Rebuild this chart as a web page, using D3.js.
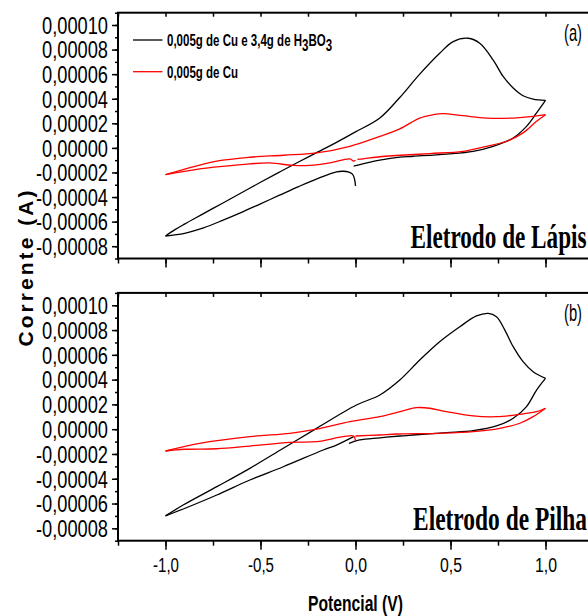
<!DOCTYPE html>
<html>
<head>
<meta charset="utf-8">
<script src="https://cdn.jsdelivr.net/npm/d3@7"></script>
<style>
  body { margin: 0; background: #fff; }
  svg { display: block; }
</style>
</head>
<body>
<div id="chart"></div>
<script>
// ==================================================
// Dados (potencial em V, corrente em unidades de 1e-5 A)
// ==================================================
const CURRENT_UNIT = 1e-5;

const xMajorTicks = [-1.0, -0.5, 0.0, 0.5, 1.0];
const yMajorTicks = [0.0001, 0.00008, 0.00006, 0.00004, 0.00002, 0, -0.00002, -0.00004, -0.00006, -0.00008];
const seriesLabels = ["0,005g de Cu e 3,4g de H", "0,005g de Cu"];
const panelTags = ["(a)", "(b)"];
const panelNames = ["Eletrodo de Lápis", "Eletrodo de Pilha"];

// (a) Eletrodo de Lápis - Cu + H3BO3
const lapisBoro = [
  [0.0, -3.1], [-0.005, -2.55], [-0.015, -2.15], [-0.035, -1.97], [-0.065, -1.9], [-0.1, -1.95],
  [-0.2, -2.5], [-0.3, -3.15], [-0.4, -3.85], [-0.5, -4.55], [-0.6, -5.25], [-0.7, -5.9],
  [-0.8, -6.5], [-0.9, -6.95], [-1.0, -7.17],
  [-0.95, -6.65], [-0.9, -6.2], [-0.8, -5.35], [-0.7, -4.5], [-0.6, -3.65], [-0.5, -2.8],
  [-0.4, -1.97], [-0.3, -1.15], [-0.2, -0.35], [-0.1, 0.45], [0.0, 1.3], [0.128, 2.43],
  [0.233, 4.1], [0.338, 6.0], [0.443, 7.7], [0.514, 8.65], [0.593, 8.92], [0.654, 8.51],
  [0.724, 7.16], [0.777, 5.81], [0.83, 4.87], [0.882, 4.24], [0.935, 3.97], [1.0, 3.86],
  [0.953, 2.84], [0.9, 1.75], [0.83, 0.81], [0.724, 0.13], [0.619, -0.28], [0.479, -0.5],
  [0.303, -0.68], [0.233, -0.75], [0.128, -1.0], [0.0, -1.45], [-0.01, -1.49]
];

// (a) Eletrodo de Lápis - Cu
const lapisCu = [
  [0.0, -1.0], [-0.01, -1.08], [-0.03, -0.9], [-0.135, -1.22], [-0.24, -1.43], [-0.328, -1.43],
  [-0.45, -1.22], [-0.556, -1.3], [-0.7, -1.5], [-0.82, -1.71], [-1.0, -2.17],
  [-0.907, -1.76], [-0.73, -1.08], [-0.556, -0.76], [-0.38, -0.6], [-0.205, -0.41],
  [-0.03, 0.13], [0.128, 0.94], [0.233, 1.55], [0.338, 2.43], [0.409, 2.7], [0.461, 2.78],
  [0.566, 2.62], [0.689, 2.43], [0.83, 2.43], [0.935, 2.56], [1.0, 2.7],
  [0.953, 2.16], [0.882, 1.22], [0.795, 0.54], [0.689, 0.13], [0.566, -0.28], [0.391, -0.46],
  [0.216, -0.62], [0.128, -0.72], [0.04, -0.89], [0.01, -0.93]
];

// (b) Eletrodo de Pilha - Cu + H3BO3
const pilhaBoro = [
  [-0.01, -0.6], [-0.1, -1.28], [-0.17, -1.68], [-0.38, -3.03], [-0.556, -4.1], [-0.73, -5.31],
  [-0.9, -6.4], [-1.0, -7.0],
  [-0.907, -6.12], [-0.73, -4.64], [-0.556, -3.16], [-0.38, -1.54], [-0.205, 0.07],
  [0.005, 1.95], [0.128, 2.76], [0.233, 3.97], [0.338, 5.58], [0.443, 7.06], [0.549, 8.27],
  [0.637, 9.14], [0.698, 9.35], [0.742, 9.08], [0.786, 8.0], [0.83, 6.66], [0.882, 5.45],
  [0.935, 4.64], [1.0, 4.1],
  [0.953, 3.16], [0.9, 1.82], [0.83, 0.88], [0.742, 0.26], [0.619, -0.12], [0.479, -0.28],
  [0.303, -0.47], [0.233, -0.55], [0.128, -0.7], [0.022, -0.87], [-0.034, -1.14]
];

// (b) Eletrodo de Pilha - Cu
const pilhaCu = [
  [0.0, -1.0], [-0.01, -0.55], [-0.065, -0.6], [-0.205, -1.01], [-0.345, -1.06], [-0.556, -1.36],
  [-0.73, -1.58], [-0.9, -1.62], [-1.0, -1.76],
  [-0.82, -1.14], [-0.556, -0.6], [-0.345, -0.33], [-0.205, 0.0], [-0.03, 0.61], [0.128, 1.01],
  [0.233, 1.41], [0.32, 1.74], [0.391, 1.69], [0.479, 1.41], [0.619, 1.07], [0.742, 1.01],
  [0.865, 1.2], [0.953, 1.41], [1.0, 1.69],
  [0.935, 1.01], [0.865, 0.48], [0.76, 0.07], [0.619, -0.2], [0.443, -0.33], [0.216, -0.39],
  [0.128, -0.47], [0.0, -0.55]
];

const seriesColors = ["#000000", "#ff0000"];

// ==================================================
// Layout
// ==================================================
const W = 588, H = 616;
const narrow = "'Liberation Sans Narrow','Arial Narrow','Liberation Sans',sans-serif";

const svg = d3.select("#chart").append("svg")
  .attr("width", W)
  .attr("height", H);

const x = d3.scaleLinear().domain([-1.25, 1.25]).range([118, 593]);

const panels = [
  { y: d3.scaleLinear().domain([-0.00009, 0.00011]).range([258.5, 12.7]), data: [lapisBoro, lapisCu], labelsX: false },
  { y: d3.scaleLinear().domain([-0.00009, 0.00011]).range([540.7, 292.9]), data: [pilhaBoro, pilhaCu], labelsX: true }
];

const fmt = (f) => (d) => d3.format(f)(d).replace("−", "-").replace(".", ",");
const xMinor = d3.range(-5, 6).map(k => k * 0.25);
const yMinor = d3.range(-9, 12).map(k => k * 1e-5);

// divide o voltamograma em ramos (onde o sentido da varredura muda)
function splitBranches(points) {
  const branches = [];
  let current = [points[0]];
  let dir = 0;
  for (let i = 1; i < points.length; i++) {
    const d = Math.sign(points[i][0] - points[i - 1][0]);
    if (dir !== 0 && d !== 0 && d !== dir) {
      branches.push(current);
      current = [points[i - 1]];
    }
    if (d !== 0) dir = d;
    current.push(points[i]);
  }
  branches.push(current);
  return branches;
}

panels.forEach((p, pi) => {
  const g = svg.append("g");
  const [y0, y1] = p.y.range();

  // Curvas
  const line = d3.line()
    .x(d => x(d[0]))
    .y(d => p.y(d[1] * CURRENT_UNIT))
    .curve(d3.curveCatmullRom.alpha(0.5));

  p.data.forEach((series, si) => {
    splitBranches(series).forEach(branch => {
      g.append("path")
        .attr("d", line(branch))
        .attr("fill", "none")
        .attr("stroke", seriesColors[si])
        .attr("stroke-width", 1.3)
        .attr("stroke-linejoin", "round");
    });
  });

  // Eixo Y: menores e maiores
  g.append("g")
    .attr("transform", `translate(${x.range()[0]},0)`)
    .call(d3.axisLeft(p.y).tickValues(yMinor).tickSize(3).tickFormat(""))
    .call(a => a.select(".domain").remove())
    .call(a => a.selectAll("line").attr("stroke-width", 1.5));

  g.append("g")
    .attr("transform", `translate(${x.range()[0]},0)`)
    .call(d3.axisLeft(p.y).tickValues(yMajorTicks).tickSize(6).tickPadding(4).tickFormat(fmt(".5f")))
    .call(a => a.select(".domain").remove())
    .call(a => a.selectAll("line").attr("stroke-width", 1.5))
    .call(a => a.selectAll("text")
      .attr("font-family", narrow)
      .attr("font-size", 23)
      .attr("fill", "#000")
      .attr("dy", "0.36em")
      .attr("textLength", d => d < 0 ? 72 : 66)
      .attr("lengthAdjust", "spacingAndGlyphs"));

  // Eixo X inferior
  g.append("g")
    .attr("transform", `translate(0,${y0})`)
    .call(d3.axisBottom(x).tickValues(xMinor).tickSize(5).tickFormat(""))
    .call(a => a.select(".domain").remove())
    .call(a => a.selectAll("line").attr("stroke-width", 1.5));

  g.append("g")
    .attr("transform", `translate(0,${y0})`)
    .call(d3.axisBottom(x).tickValues(xMajorTicks).tickSize(9).tickPadding(8)
      .tickFormat(p.labelsX ? fmt(".1f") : ""))
    .call(a => a.select(".domain").remove())
    .call(a => a.selectAll("line").attr("stroke-width", 1.5))
    .call(a => a.selectAll("text")
      .attr("font-family", narrow)
      .attr("font-size", 20)
      .attr("fill", "#000")
      .attr("dy", "0.71em")
      .attr("textLength", d => d < 0 ? 26 : 22)
      .attr("lengthAdjust", "spacingAndGlyphs"));

  // Ticks internos do topo
  g.append("g")
    .attr("transform", `translate(0,${y1})`)
    .call(d3.axisBottom(x).tickValues(xMinor).tickSize(4).tickFormat(""))
    .call(a => a.select(".domain").remove())
    .call(a => a.selectAll("line").attr("stroke-width", 1.5));

  // Moldura
  g.append("rect")
    .attr("x", x.range()[0])
    .attr("y", y1)
    .attr("width", x.range()[1] - x.range()[0])
    .attr("height", y0 - y1)
    .attr("fill", "none")
    .attr("stroke", "#000")
    .attr("stroke-width", 2);

  // Rótulo do painel
  g.append("text")
    .attr("x", 573)
    .attr("y", y1 + 28)
    .attr("text-anchor", "middle")
    .attr("font-family", narrow)
    .attr("font-size", 24)
    .attr("textLength", 18)
    .attr("lengthAdjust", "spacingAndGlyphs")
    .text(panelTags[pi]);

  g.append("text")
    .attr("x", pi === 0 ? 410.5 : 413)
    .attr("y", y0 - 11)
    .attr("font-family", "'Liberation Serif','DejaVu Serif',serif")
    .attr("font-weight", "bold")
    .attr("font-size", 33)
    .attr("textLength", pi === 0 ? 176 : 174)
    .attr("lengthAdjust", "spacingAndGlyphs")
    .text(panelNames[pi]);
});

// ==================================================
// Legenda (apenas no painel a)
// ==================================================
const legendRows = [40, 71.7];
legendRows.forEach((ly, i) => {
  svg.append("line")
    .attr("x1", 133).attr("x2", 162.5)
    .attr("y1", ly).attr("y2", ly)
    .attr("stroke", seriesColors[i])
    .attr("stroke-width", 1.3);

  // fonte condensada: compressão horizontal
  const t = svg.append("text")
    .attr("transform", `translate(167,${ly + 6}) scale(0.72,1)`)
    .attr("font-family", narrow)
    .attr("font-weight", "bold")
    .attr("font-size", 16)
    .text(seriesLabels[i]);

  if (i === 0) {
    t.append("tspan").attr("dy", 5).text("3");
    t.append("tspan").attr("dy", -5).text("BO");
    t.append("tspan").attr("dy", 5).text("3");
  }
});

// ==================================================
// Títulos dos eixos
// ==================================================
svg.append("text")
  .attr("x", 355.5)
  .attr("y", 611)
  .attr("text-anchor", "middle")
  .attr("font-family", narrow)
  .attr("font-weight", "bold")
  .attr("font-size", 22)
  .attr("textLength", 95)
  .attr("lengthAdjust", "spacingAndGlyphs")
  .text("Potencial (V)");

svg.append("text")
  .attr("transform", "translate(32.5,268.5) rotate(-90)")
  .attr("text-anchor", "middle")
  .attr("font-family", "'Liberation Sans',Arial,sans-serif")
  .attr("font-weight", "bold")
  .attr("font-size", 21)
  .attr("textLength", 156)
  .attr("lengthAdjust", "spacing")
  .text("Corrente (A)");
</script>
</body>
</html>
